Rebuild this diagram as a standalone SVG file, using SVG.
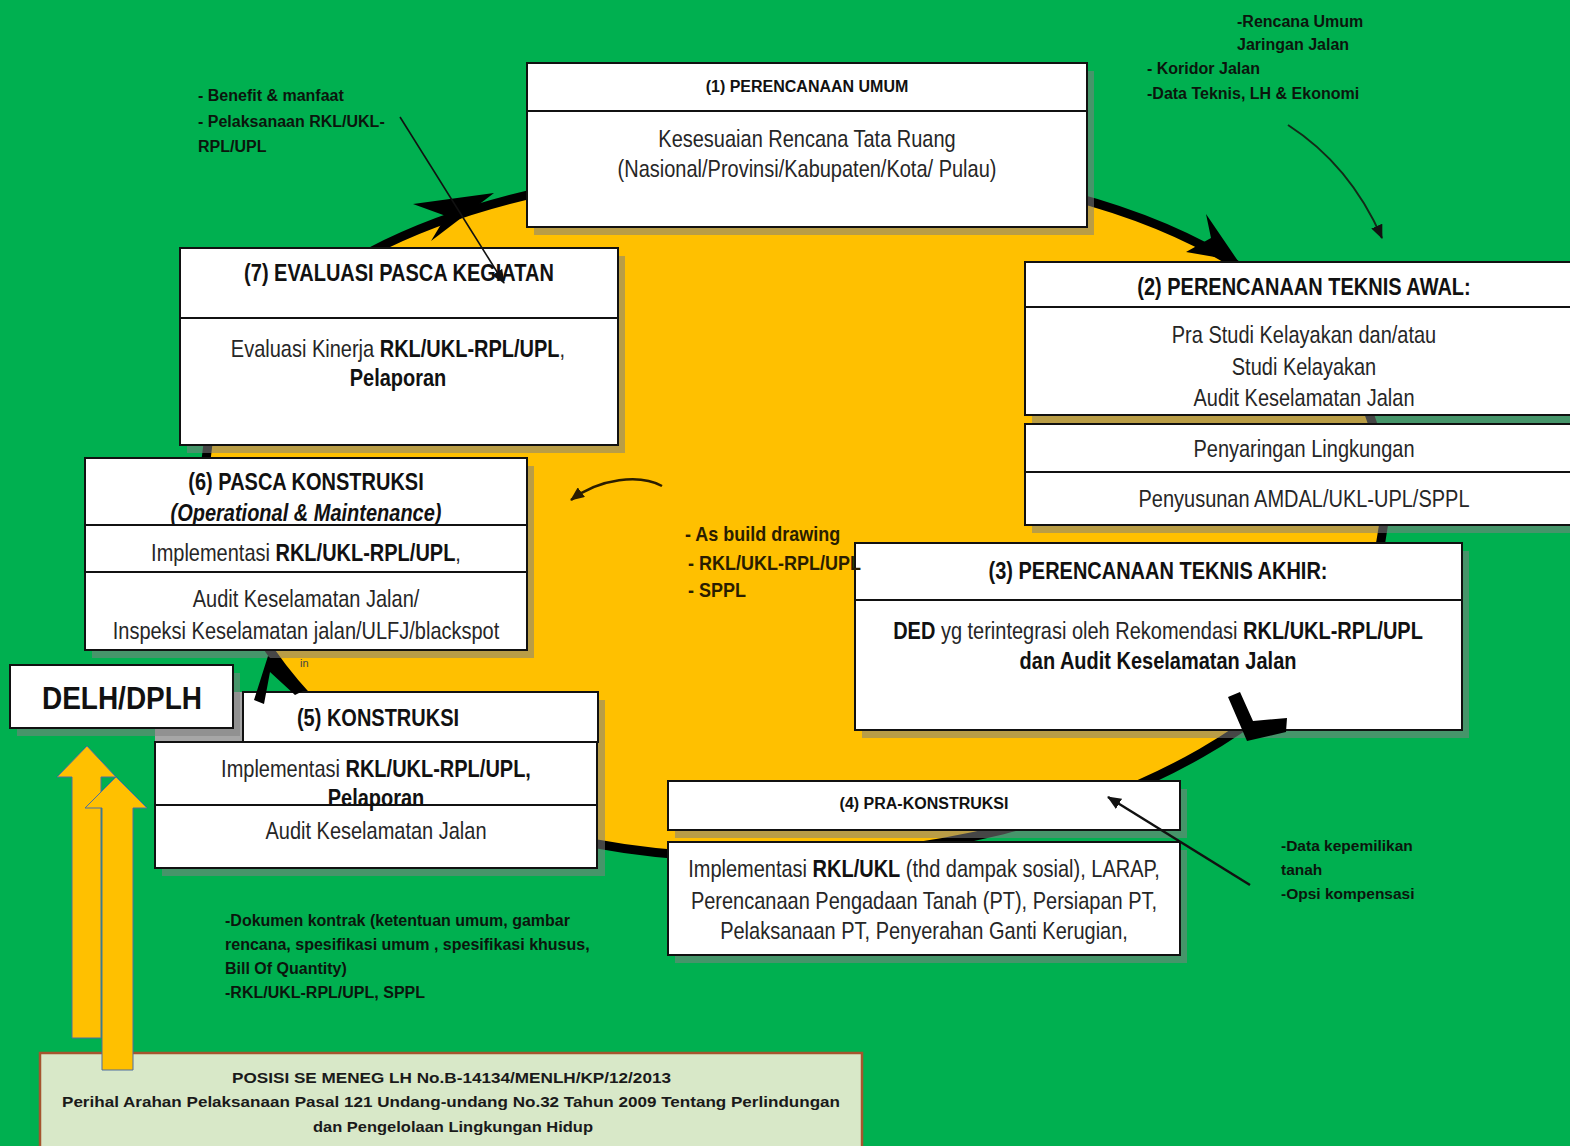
<svg xmlns="http://www.w3.org/2000/svg" width="1570" height="1146" viewBox="0 0 1570 1146">
<defs>
<style>
.bx{fill:#fff;stroke:#111;stroke-width:2}
.dv{stroke:#111;stroke-width:2}
.sh{fill:#808080;opacity:.55}
.n{font-family:"Liberation Sans",Arial,sans-serif;font-size:24px;fill:#262626}
.h{font-family:"Liberation Sans",Arial,sans-serif;font-size:24px;font-weight:bold;fill:#111}
.s{font-family:"Liberation Sans",Arial,sans-serif;font-size:16px;font-weight:bold;fill:#111}
.a{font-family:"Liberation Sans",Arial,sans-serif;font-size:16px;font-weight:bold;fill:#0b160d}
.m{font-family:"Liberation Sans",Arial,sans-serif;font-size:21px;font-weight:bold;fill:#2a1d00}
.f{font-family:"Liberation Sans",Arial,sans-serif;font-size:15px;font-weight:bold;fill:#1a1a1a}
.ah{fill:#000}
.yarr{fill:#FFC000;stroke:#4f6f9f;stroke-width:1}
</style>
<marker id="tri" markerWidth="14" markerHeight="12" refX="13" refY="6" orient="auto" markerUnits="userSpaceOnUse">
<path d="M0,0 L14,6 L0,12 z" fill="#111"/>
</marker>
<marker id="tri2" markerWidth="14" markerHeight="12" refX="13" refY="6" orient="auto" markerUnits="userSpaceOnUse">
<path d="M0,0 L14,6 L0,12 z" fill="#2a1d00"/>
</marker>
</defs>
<rect x="0" y="0" width="1570" height="1146" fill="#00B050"/>

<g id="cycle">
<path d="M808,165 C1154,165 1385,303 1385,500 C1385,697 1104,858 760,858 C260,858 205,518 205,480 C205,291 446,165 808,165 Z" fill="#FFC000" stroke="#000" stroke-width="9"/>
</g>

<g id="node1">
<rect class="sh" x="534" y="71" width="560" height="164"/>
<rect class="bx" x="527" y="63" width="560" height="164"/>
<line class="dv" x1="527" y1="111" x2="1087" y2="111"/>
<text class="s" x="807" y="92" text-anchor="middle">(1) PERENCANAAN UMUM</text>
<text class="n" text-anchor="middle" transform="translate(807,147) scale(.833,1)">Kesesuaian Rencana Tata Ruang</text>
<text class="n" text-anchor="middle" transform="translate(807,177) scale(.833,1)">(Nasional/Provinsi/Kabupaten/Kota/ Pulau)</text>
</g>

<g id="node2">
<rect class="sh" x="1032" y="270" width="550" height="153"/>
<rect class="bx" x="1025" y="262" width="550" height="153"/>
<line class="dv" x1="1025" y1="307" x2="1575" y2="307"/>
<text class="h" text-anchor="middle" transform="translate(1304,295) scale(.833,1)">(2) PERENCANAAN TEKNIS AWAL:</text>
<text class="n" text-anchor="middle" transform="translate(1304,343) scale(.833,1)">Pra Studi Kelayakan dan/atau</text>
<text class="n" text-anchor="middle" transform="translate(1304,375) scale(.833,1)">Studi Kelayakan</text>
<text class="n" text-anchor="middle" transform="translate(1304,406) scale(.833,1)">Audit Keselamatan Jalan</text>
<rect class="sh" x="1032" y="432" width="550" height="101"/>
<rect class="bx" x="1025" y="424" width="550" height="101"/>
<line class="dv" x1="1025" y1="472" x2="1575" y2="472"/>
<text class="n" text-anchor="middle" transform="translate(1304,457) scale(.833,1)">Penyaringan Lingkungan</text>
<text class="n" text-anchor="middle" transform="translate(1304,507) scale(.833,1)">Penyusunan AMDAL/UKL-UPL/SPPL</text>
</g>

<g id="node3">
<rect class="sh" x="862" y="551" width="607" height="187"/>
<rect class="bx" x="855" y="543" width="607" height="187"/>
<line class="dv" x1="855" y1="600" x2="1462" y2="600"/>
<text class="h" text-anchor="middle" transform="translate(1158,579) scale(.833,1)">(3) PERENCANAAN TEKNIS AKHIR:</text>
<text class="n" text-anchor="middle" transform="translate(1158,639) scale(.833,1)"><tspan font-weight="bold" fill="#111">DED</tspan> yg terintegrasi oleh Rekomendasi <tspan font-weight="bold" fill="#111">RKL/UKL-RPL/UPL</tspan></text>
<text class="h" text-anchor="middle" transform="translate(1158,669) scale(.833,1)">dan Audit Keselamatan Jalan</text>
</g>

<g id="node4">
<rect class="sh" x="675" y="789" width="512" height="49"/>
<rect class="bx" x="668" y="781" width="512" height="49"/>
<text class="s" x="924" y="809" text-anchor="middle">(4) PRA-KONSTRUKSI</text>
<rect class="sh" x="675" y="850" width="512" height="113"/>
<rect class="bx" x="668" y="842" width="512" height="113"/>
<text class="n" text-anchor="middle" transform="translate(924,877) scale(.833,1)">Implementasi <tspan font-weight="bold" fill="#111">RKL/UKL</tspan> (thd dampak sosial), LARAP,</text>
<text class="n" text-anchor="middle" transform="translate(924,909) scale(.833,1)">Perencanaan Pengadaan Tanah (PT), Persiapan PT,</text>
<text class="n" text-anchor="middle" transform="translate(924,939) scale(.833,1)">Pelaksanaan PT, Penyerahan Ganti Kerugian,</text>
</g>

<g id="node5">
<rect class="sh" x="162" y="700" width="443" height="176"/>
<rect x="155" y="692" width="88" height="50" fill="#a6a6a6"/>
<rect class="bx" x="243" y="692" width="355" height="50"/>
<rect class="bx" x="155" y="742" width="442" height="126"/>
<line class="dv" x1="155" y1="805" x2="597" y2="805"/>
<text class="h" text-anchor="middle" transform="translate(378,726) scale(.833,1)">(5) KONSTRUKSI</text>
<text class="n" text-anchor="middle" transform="translate(376,777) scale(.833,1)">Implementasi <tspan font-weight="bold" fill="#111">RKL/UKL-RPL/UPL,</tspan></text>
<text class="h" text-anchor="middle" transform="translate(376,806) scale(.833,1)">Pelaporan</text>
<text class="n" text-anchor="middle" transform="translate(376,839) scale(.833,1)">Audit Keselamatan Jalan</text>
</g>

<g id="node6">
<rect class="sh" x="92" y="466" width="442" height="192"/>
<rect class="bx" x="85" y="458" width="442" height="192"/>
<line class="dv" x1="85" y1="525" x2="527" y2="525"/>
<line class="dv" x1="85" y1="572" x2="527" y2="572"/>
<text class="h" text-anchor="middle" transform="translate(306,490) scale(.833,1)">(6) PASCA KONSTRUKSI</text>
<text class="h" text-anchor="middle" font-style="italic" transform="translate(306,521) scale(.833,1)">(Operational &amp; Maintenance)</text>
<text class="n" text-anchor="middle" transform="translate(306,561) scale(.833,1)">Implementasi <tspan font-weight="bold" fill="#111">RKL/UKL-RPL/UPL</tspan>,</text>
<text class="n" text-anchor="middle" transform="translate(306,607) scale(.833,1)">Audit Keselamatan Jalan/</text>
<text class="n" text-anchor="middle" transform="translate(306,639) scale(.833,1)">Inspeksi Keselamatan jalan/ULFJ/blackspot</text>
</g>

<g id="node7">
<rect class="sh" x="187" y="256" width="438" height="197"/>
<rect class="bx" x="180" y="248" width="438" height="197"/>
<line class="dv" x1="180" y1="318" x2="618" y2="318"/>
<text class="h" text-anchor="middle" transform="translate(399,281) scale(.833,1)">(7) EVALUASI PASCA KEGIATAN</text>
<text class="n" text-anchor="middle" transform="translate(398,357) scale(.833,1)">Evaluasi Kinerja <tspan font-weight="bold" fill="#111">RKL/UKL-RPL/UPL</tspan>,</text>
<text class="h" text-anchor="middle" transform="translate(398,386) scale(.833,1)">Pelaporan</text>
</g>

<g id="delh">
<rect class="sh" x="17" y="673" width="223" height="63"/>
<rect class="bx" x="10" y="665" width="223" height="63"/>
<text class="h" text-anchor="middle" transform="translate(122,709) scale(.875,1)" style="font-size:32px">DELH/DPLH</text>
</g>

<text x="300" y="667" font-family="Liberation Sans, Arial, sans-serif" font-size="11" fill="#444">in</text>

<g id="posisi">
<rect x="40" y="1053" width="822" height="100" fill="#d8e8c8" stroke="#a5552e" stroke-width="2.5"/>
<text class="f" x="232" y="1083" textLength="439" lengthAdjust="spacingAndGlyphs">POSISI SE MENEG LH No.B-14134/MENLH/KP/12/2013</text>
<text class="f" x="62" y="1107" textLength="778" lengthAdjust="spacingAndGlyphs">Perihal Arahan Pelaksanaan Pasal 121 Undang-undang No.32 Tahun 2009 Tentang Perlindungan</text>
<text class="f" x="313" y="1132" textLength="280" lengthAdjust="spacingAndGlyphs">dan Pengelolaan Lingkungan Hidup</text>
</g>

<g id="up-arrows">
<polygon class="yarr" points="72,1038 72,777 57,777 87,746 116,777 101,777 101,1038"/>
<polygon class="yarr" points="102,1070 102,808 85,808 116,777 147,808 133,808 133,1070"/>
</g>

<g id="connectors">
<polygon class="ah" points="494,193 413,204 446,216 431,241"/>
<polygon class="ah" points="1238,261 1206,214 1211,238 1186,252"/>
<polygon class="ah" points="1228,697 1240,692 1253,721 1287,718 1286,732 1247,741"/>
<polygon class="ah" points="268,656 305,690 295,695 270,672 264,704 254,700"/>
<line x1="400" y1="117" x2="504" y2="283" stroke="#111" stroke-width="1.6" marker-end="url(#tri)"/>
<path d="M1288,125 Q1350,165 1382,238" fill="none" stroke="#132a18" stroke-width="2" marker-end="url(#tri)"/>
<line x1="1250" y1="885" x2="1108" y2="797" stroke="#111" stroke-width="2.5" marker-end="url(#tri)"/>
<path d="M662,486 C640,474 600,478 571,500" fill="none" stroke="#2a1d00" stroke-width="2.5" marker-end="url(#tri2)"/>
</g>

<g id="annotations">
<text class="a" x="198" y="101">- Benefit &amp; manfaat</text>
<text class="a" x="198" y="127">- Pelaksanaan RKL/UKL-</text>
<text class="a" x="198" y="152">RPL/UPL</text>
<text class="a" x="1237" y="27">-Rencana Umum</text>
<text class="a" x="1237" y="50">Jaringan Jalan</text>
<text class="a" x="1147" y="74">- Koridor Jalan</text>
<text class="a" x="1147" y="99">-Data Teknis, LH &amp; Ekonomi</text>
<text class="m" transform="translate(685,541) scale(.857,1)">- As build drawing</text>
<text class="m" transform="translate(688,570) scale(.857,1)">- RKL/UKL-RPL/UPL</text>
<text class="m" transform="translate(688,597) scale(.857,1)">- SPPL</text>
<text class="a" x="225" y="926">-Dokumen kontrak (ketentuan umum, gambar</text>
<text class="a" x="225" y="950">rencana, spesifikasi umum , spesifikasi khusus,</text>
<text class="a" x="225" y="974">Bill Of Quantity)</text>
<text class="a" x="225" y="998">-RKL/UKL-RPL/UPL, SPPL</text>
<text class="a" x="1281" y="851" style="font-size:15.5px">-Data kepemilikan</text>
<text class="a" x="1281" y="875" style="font-size:15.5px">tanah</text>
<text class="a" x="1281" y="899" style="font-size:15.5px">-Opsi kompensasi</text>
</g>
</svg>
